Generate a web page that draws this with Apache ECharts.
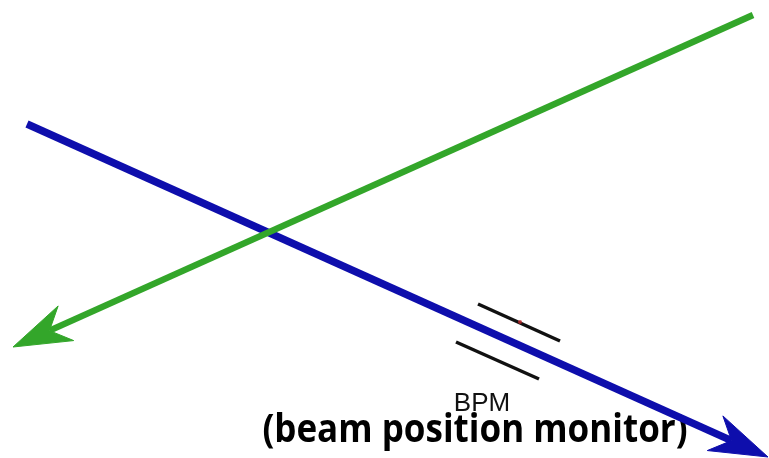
<!DOCTYPE html>
<html>
<head>
<meta charset="utf-8">
<title>BPM</title>
<script src="https://cdn.jsdelivr.net/npm/echarts@6/dist/echarts.min.js"></script>
<style>
html, body { margin: 0; padding: 0; background: #fff; }
#main { width: 769px; height: 458px; }
</style>
</head>
<body>
<div id="main"></div>
<script>
// beam paths: [start, tip] (pixel-like coords, y goes down)
var greenBeam = [[753, 15], [13, 347]]
var blueBeam = [[27, 124], [768, 457]]
// BPM electrodes
var bpmUpper = [[478, 304], [560, 341]]
var bpmLower = [[456, 342], [539, 379]]
var bpmDot = [[520, 322]]
var bpmLabel = 'BPM'
var bpmNote = '(beam position monitor)'

// shaft + barbed arrow head, drawn through the axes
function arrowItem(color, width) {
  return function(params, api) {
    var a = api.coord([api.value(0), api.value(1)])
    var b = api.coord([api.value(2), api.value(3)])
    var dx = b[0] - a[0]
    var dy = b[1] - a[1]
    var len = Math.sqrt(dx * dx + dy * dy)
    var ux = dx / len
    var uy = dy / len
    var nx = -uy
    var ny = ux
    var headLen = 58
    var notch = 40
    var half = 19
    var n = [b[0] - ux * notch, b[1] - uy * notch]
    return {
      type: 'group',
      children: [
        {
          type: 'polyline',
          shape: { points: [a, n] },
          style: { stroke: color, lineWidth: width, fill: null }
        },
        {
          type: 'polygon',
          shape: {
            points: [
              b,
              [b[0] - ux * headLen + nx * half, b[1] - uy * headLen + ny * half],
              n,
              [b[0] - ux * headLen - nx * half, b[1] - uy * headLen - ny * half]
            ]
          },
          style: { fill: color, stroke: color, lineWidth: 1, lineJoin: 'miter' }
        }
      ]
    }
  }
}

var myChart = echarts.init(document.getElementById('main'))
var option = {
  animation: false,
  grid: { left: 0, right: 0, top: 0, bottom: 0 },
  xAxis: { type: 'value', min: 0, max: 769, show: false },
  yAxis: { type: 'value', min: 0, max: 458, inverse: true, show: false },
  series: [
    {
      type: 'custom',
      renderItem: arrowItem('#0e0eac', 7.5),
      data: [blueBeam[0].concat(blueBeam[1])],
      clip: false,
      z: 2
    },
    {
      type: 'custom',
      renderItem: arrowItem('#33a62a', 6.5),
      data: [greenBeam[0].concat(greenBeam[1])],
      clip: false,
      z: 3
    },
    {
      type: 'lines',
      coordinateSystem: 'cartesian2d',
      symbol: 'none',
      lineStyle: { color: '#111', width: 3.5, opacity: 1, curveness: 0 },
      data: [{ coords: bpmUpper }, { coords: bpmLower }],
      z: 4
    },
    {
      type: 'scatter',
      symbolSize: 4,
      itemStyle: { color: '#c0282a' },
      data: bpmDot,
      z: 5
    }
  ],
  graphic: [
    {
      type: 'text',
      x: 482,
      y: 404,
      style: {
        text: bpmLabel,
        font: '26px "Liberation Sans", Arial, sans-serif',
        fill: '#111',
        align: 'center',
        verticalAlign: 'middle'
      }
    },
    {
      type: 'text',
      x: 475,
      y: 431,
      scaleY: 1.1,
      style: {
        text: bpmNote,
        font: 'bold 35px "Open Sans", "Liberation Sans", sans-serif',
        fill: '#000',
        align: 'center',
        verticalAlign: 'middle'
      }
    }
  ]
}
myChart.setOption(option)
window.addEventListener('resize', function() {
  myChart.resize()
})
</script>
</body>
</html>
